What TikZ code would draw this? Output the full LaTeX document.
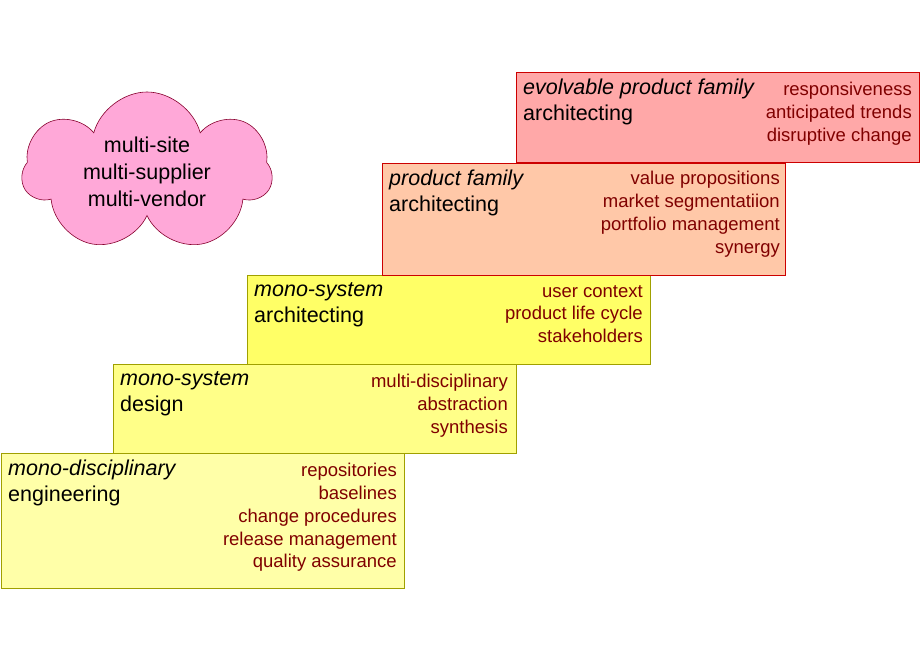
\documentclass[tikz,border=0pt]{standalone}
\usepackage{fontspec}
\setmainfont{Liberation Sans}
\usetikzlibrary{shapes.symbols}
\definecolor{y1}{HTML}{FFFFA8}
\definecolor{y2}{HTML}{FFFF88}
\definecolor{y3}{HTML}{FFFF66}
\definecolor{o4}{HTML}{FFC8A8}
\definecolor{r5}{HTML}{FFA8A8}
\definecolor{pk}{HTML}{FFA8D8}
\definecolor{dr}{HTML}{800000}
\definecolor{ol}{HTML}{A0A000}
\begin{document}
\begin{tikzpicture}[x=1pt,y=-1pt,
  box/.style={draw=#1,line width=0.8pt},
  ttl/.style={anchor=north west,align=left,inner sep=0pt,font=\fontsize{21.5}{26}\selectfont},
  lst/.style={anchor=north east,align=right,inner sep=0pt,text=dr,font=\fontsize{18.5}{22.8}\selectfont}]
\useasboundingbox (0,0) rectangle (920,660);
\node[cloud,cloud puffs=7,aspect=1.7,draw=purple!70!black,fill=pk,minimum width=250,minimum height=160,line width=0.6pt] (cl) at (147,172) {};
\node[align=center,font=\fontsize{21.5}{27}\selectfont] (clt) at (147,172) {multi-site\\multi-supplier\\multi-vendor};

\fill[y1] (1,453) rectangle (404,588); \draw[box=ol] (1,453) rectangle (404,588);
\node[ttl] (t1) at (8,460) {\textit{mono-disciplinary}\\engineering};
\node[lst] (l1) at (397,463) {repositories\\baselines\\change procedures\\release management\\quality assurance};

\fill[y2] (113,364) rectangle (516,453); \draw[box=ol] (113,364) rectangle (516,453);
\node[ttl] (t2) at (120,371) {\textit{mono-system}\\design};
\node[lst] (l2) at (508,374) {multi-disciplinary\\abstraction\\synthesis};

\fill[y3] (247,275) rectangle (650,364); \draw[box=ol] (247,275) rectangle (650,364);
\node[ttl] (t3) at (254,282) {\textit{mono-system}\\architecting};
\node[lst] (l3) at (643,285) {user context\\product life cycle\\stakeholders};

\fill[o4] (382,163) rectangle (785,275); \draw[box=red!80!black] (382,163) rectangle (785,275);
\node[ttl] (t4) at (389,170) {\textit{product family}\\architecting};
\node[lst] (l4) at (780,171) {value propositions\\market segmentatiion\\portfolio management\\synergy};

\fill[r5] (516,72) rectangle (919,162); \draw[box=red!80!black] (516,72) rectangle (919,162);
\node[ttl] (t5) at (523,79) {\textit{evolvable product family}\\architecting};
\node[lst] (l5) at (912,82) {responsiveness\\anticipated trends\\disruptive change};
\end{tikzpicture}
\end{document}
